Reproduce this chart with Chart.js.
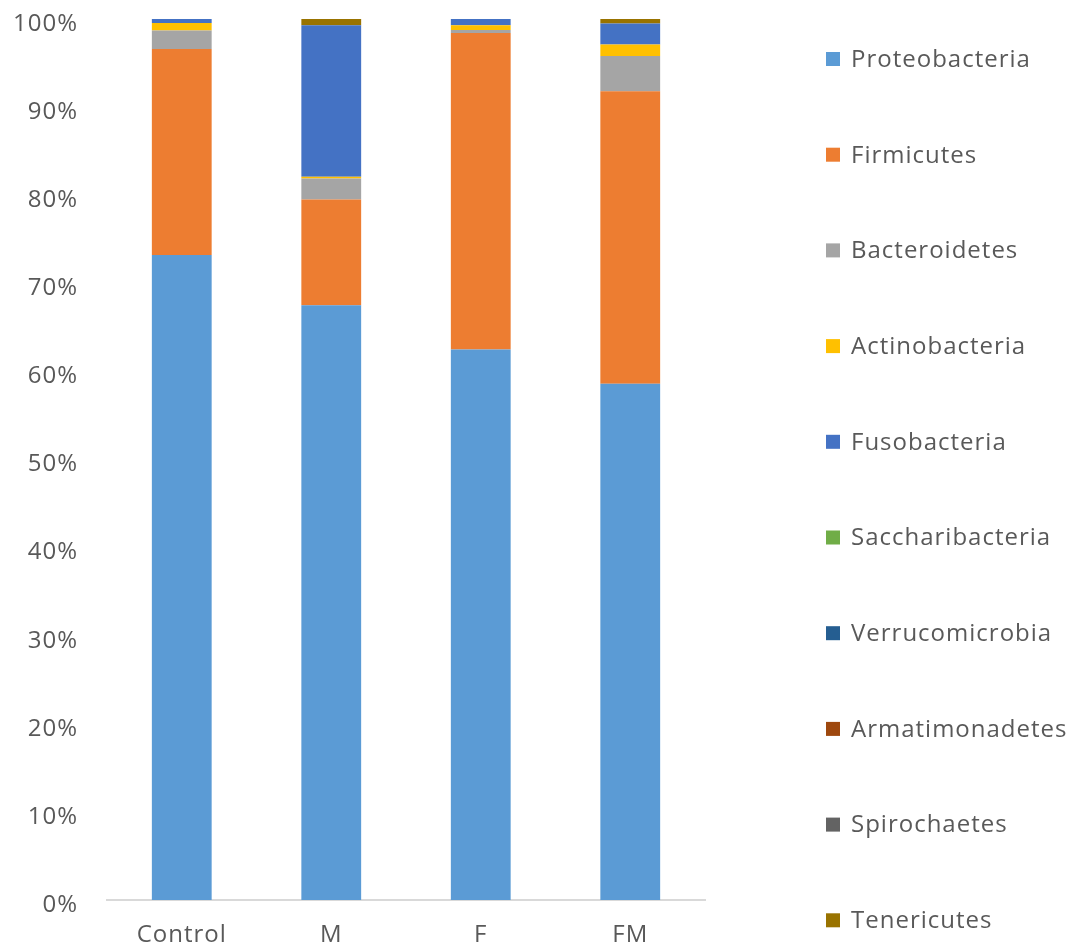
<!DOCTYPE html>
<html>
<head>
<meta charset="utf-8">
<script src="https://cdn.jsdelivr.net/npm/chart.js@4/dist/chart.umd.min.js"></script>
<style>
  html, body { margin: 0; padding: 0; background: #fff; }
  #wrap { width: 1075px; height: 947px; }
</style>
</head>
<body>
<div id="wrap"><canvas id="phyla"></canvas></div>
<script>
var groups = ["Control", "M", "F", "FM"]

// relative abundance (%) per phylum, one value per group
var proteobacteria   = [73.2, 67.5, 62.5, 58.6]
var firmicutes       = [23.4, 12.0, 35.9, 33.2]
var bacteroidetes    = [2.1, 2.4, 0.35, 4.0]
var actinobacteria   = [0.85, 0.2, 0.55, 1.3]
var fusobacteria     = [0.45, 17.2, 0.7, 2.4]
var saccharibacteria = [0, 0, 0, 0]
var verrucomicrobia  = [0, 0, 0, 0]
var armatimonadetes  = [0, 0, 0, 0]
var spirochaetes     = [0, 0, 0, 0]
var tenericutes      = [0, 0.7, 0, 0.5]

var phyla = ["Proteobacteria", "Firmicutes", "Bacteroidetes", "Actinobacteria", "Fusobacteria",
  "Saccharibacteria", "Verrucomicrobia", "Armatimonadetes", "Spirochaetes", "Tenericutes"]
var series = [proteobacteria, firmicutes, bacteroidetes, actinobacteria, fusobacteria,
  saccharibacteria, verrucomicrobia, armatimonadetes, spirochaetes, tenericutes]
var colors = ["#5B9BD5", "#ED7D31", "#A5A5A5", "#FFC000", "#4472C4",
  "#70AD47", "#255E91", "#9E480E", "#636363", "#997300"]

var yTicks = [0, 10, 20, 30, 40, 50, 60, 70, 80, 90, 100]

var fontFam = "'Open Sans', 'Noto Sans', sans-serif"
var textCol = "#595959"

// slightly wider text, like the original's font
var spacing = {
  id: "spacing",
  beforeUpdate(chart) { chart.ctx.letterSpacing = "1px" },
  beforeDraw(chart) { chart.ctx.letterSpacing = "1px" }
}

// legend drawn as a tall single column on the right (built-in one wraps into 2 columns)
var sideLegend = {
  id: "sideLegend",
  afterDraw(chart) {
    var ctx = chart.ctx
    var x = chart.chartArea.right + 121
    var y0 = 59, step = 95.7
    ctx.save()
    ctx.font = "24px " + fontFam
    ctx.textBaseline = "middle"
    chart.data.datasets.forEach((ds, i) => {
      var y = y0 + i * step
      ctx.fillStyle = ds.backgroundColor
      ctx.fillRect(x, y - 7, 14, 14)
      ctx.fillStyle = textCol
      ctx.fillText(ds.label, x + 25, y + 1)
    })
    ctx.restore()
  }
}

new Chart("phyla", {
  type: "bar",
  data: {
    labels: groups,
    datasets: phyla.map((name, i) => ({
      label: name,
      data: series[i],
      backgroundColor: colors[i],
      borderWidth: 0,
      barPercentage: 0.4,
      categoryPercentage: 1
    }))
  },
  options: {
    responsive: true,
    maintainAspectRatio: false,
    animation: false,
    layout: { padding: { left: 13, right: 370, top: 19, bottom: 0 } },
    plugins: {
      legend: { display: false },
      tooltip: { enabled: false }
    },
    scales: {
      x: {
        stacked: true,
        grid: { display: false, drawTicks: false },
        border: { color: "#D9D9D9", width: 2 },
        ticks: { color: textCol, font: { family: fontFam, size: 24 }, padding: 21 },
        afterFit: axis => { axis.height = 47 }
      },
      y: {
        stacked: true,
        min: 0,
        max: 100,
        afterBuildTicks: axis => { axis.ticks = yTicks.map(v => ({ value: v })) },
        grid: { display: false, drawTicks: true, tickLength: 29 },
        border: { display: false },
        ticks: {
          color: textCol,
          // empty first line + short line height pushes the label ~5px under its value, as in the original
          font: { family: fontFam, size: 24, lineHeight: 0.42 },
          padding: 0,
          callback: v => ["", v + "%"]
        }
      }
    }
  },
  plugins: [spacing, sideLegend]
})
</script>
</body>
</html>
